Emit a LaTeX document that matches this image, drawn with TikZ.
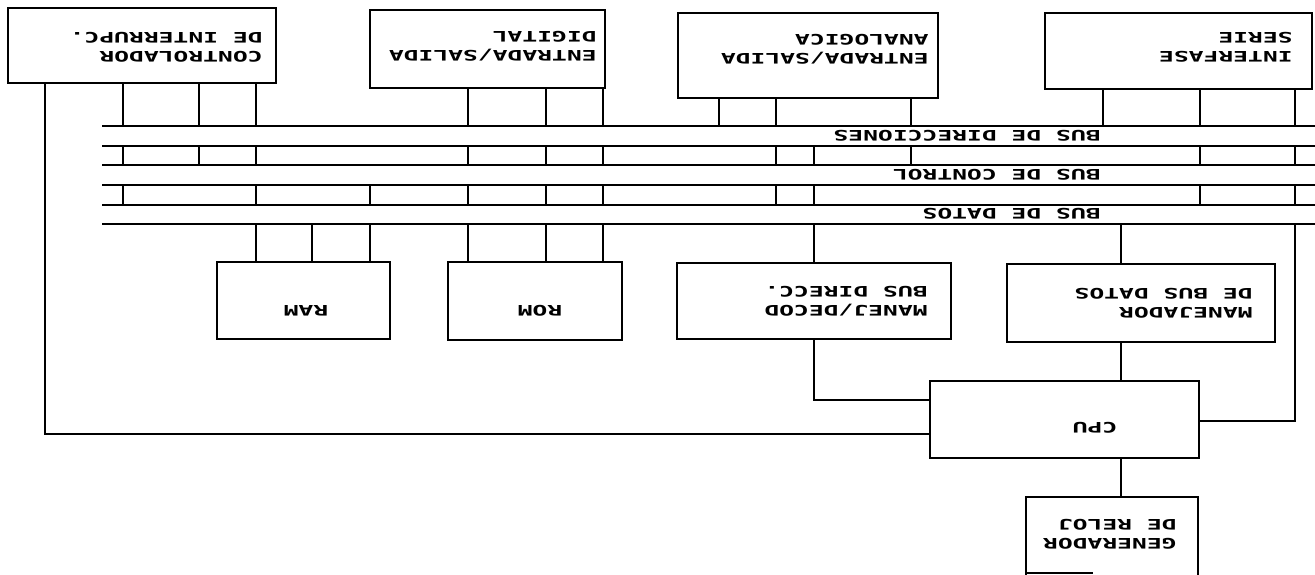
\documentclass[tikz,border=0pt]{standalone}
\usepackage{fontspec}
\newfontfamily\plotfont{DejaVu Sans Mono Bold}
\begin{document}
\begin{tikzpicture}[x=1pt,y=-1pt,
  box/.style={draw, line width=1.6pt, rectangle, inner sep=0pt, outer sep=0pt},
  wire/.style={line width=1.6pt},
  lbl/.style={font=\plotfont\fontsize{14.5}{19}\selectfont, rotate=180, xscale=1.7, inner sep=0pt, align=left}]
\useasboundingbox (0,0) rectangle (1315,575);
% boxes
\node[box, minimum width=268pt, minimum height=75pt] (ctl) at (142,45.5) {};
\node[box, minimum width=235pt, minimum height=78pt] (esd) at (487.5,49) {};
\node[box, minimum width=260pt, minimum height=85pt] (esa) at (808,55.5) {};
\node[box, minimum width=267pt, minimum height=76pt] (ser) at (1178.5,51) {};
\node[box, minimum width=173pt, minimum height=77pt] (ram) at (303.5,300.5) {};
\node[box, minimum width=174pt, minimum height=78pt] (rom) at (535,301) {};
\node[box, minimum width=274pt, minimum height=76pt] (mdec) at (814,301) {};
\node[box, minimum width=268pt, minimum height=78pt] (mjd) at (1141,303) {};
\node[box, minimum width=269pt, minimum height=77pt] (cpu) at (1064.5,419.5) {};
\node[box, minimum width=172pt, minimum height=123pt] (gen) at (1112,558.5) {};
% texts
\node[lbl, anchor=west] (tctl) at (263,47) {CONTROLADOR\\DE INTERRUPC.};
\node[lbl, anchor=west] (tesd) at (597,46) {ENTRADA/SALIDA\\DIGITAL};
\node[lbl, anchor=west] (tesa) at (929,49) {ENTRADA/SALIDA\\ANALOGICA};
\node[lbl, anchor=west] (tser) at (1293,47) {INTERFASE\\SERIE};
\node[lbl, anchor=west] (tmdec) at (928,301) {MANEJ/DECOD\\BUS DIRECC.};
\node[lbl, anchor=west] (tmjd) at (1253,303) {MANEJADOR\\DE BUS DATOS};
\node[lbl, anchor=west] (tgen) at (1177,534) {GENERADOR\\DE RELOJ};
\node[lbl] (tram) at (306,311) {RAM};
\node[lbl] (trom) at (540,311) {ROM};
\node[lbl] (tcpu) at (1095,428) {CPU};
% buses
\foreach \y [count=\i] in {126,146,165,185,205,224}
  \draw[wire] (102,\y) coordinate (bus\i) -- (1315,\y);
\node[lbl, anchor=west] (busA) at (1101,136) {BUS DE DIRECCIONES};
\node[lbl, anchor=west] (busC) at (1101,175) {BUS DE CONTROL};
\node[lbl, anchor=west] (busD) at (1101,214) {BUS DE DATOS};
% stubs from top boxes
\foreach \x in {123,199,256} \draw[wire] (\x,0|-ctl.south) -- (\x,0|-bus1);
\foreach \x in {468,546,603} \draw[wire] (\x,0|-esd.south) -- (\x,0|-bus1);
\foreach \x in {719,776,911} \draw[wire] (\x,0|-esa.south) -- (\x,0|-bus1);
\foreach \x in {1103,1200,1295} \draw[wire] (\x,0|-ser.south) -- (\x,0|-bus1);
% stubs between buses
\foreach \x in {123,199,256,468,546,603,776,814,911,1200,1295} \draw[wire] (\x,0|-bus2) -- (\x,0|-bus3);
\foreach \x in {123,256,370,468,546,603,776,814,1200,1295} \draw[wire] (\x,0|-bus4) -- (\x,0|-bus5);
% stubs to bottom boxes
\foreach \x in {256,312,370} \draw[wire] (\x,0|-bus6) -- (\x,0|-ram.north);
\foreach \x in {468,546,603} \draw[wire] (\x,0|-bus6) -- (\x,0|-rom.north);
\draw[wire] (814,0|-bus6) -- (814,0|-mdec.north);
\draw[wire] (1121,0|-bus6) -- (1121,0|-mjd.north);
% CPU connections
\draw[wire] (45,0|-ctl.south) |- (cpu.west|-0,434);
\draw[wire] (814,0|-mdec.south) |- (cpu.west|-0,400);
\draw[wire] (1121,0|-mjd.south) -- (1121,0|-cpu.north);
\draw[wire] (1295,0|-bus6) |- (cpu.east|-0,421);
\draw[wire] (1121,0|-cpu.south) -- (1121,0|-gen.north);
\draw[wire] (1027,573) -- (1093,573);
\end{tikzpicture}
\end{document}
